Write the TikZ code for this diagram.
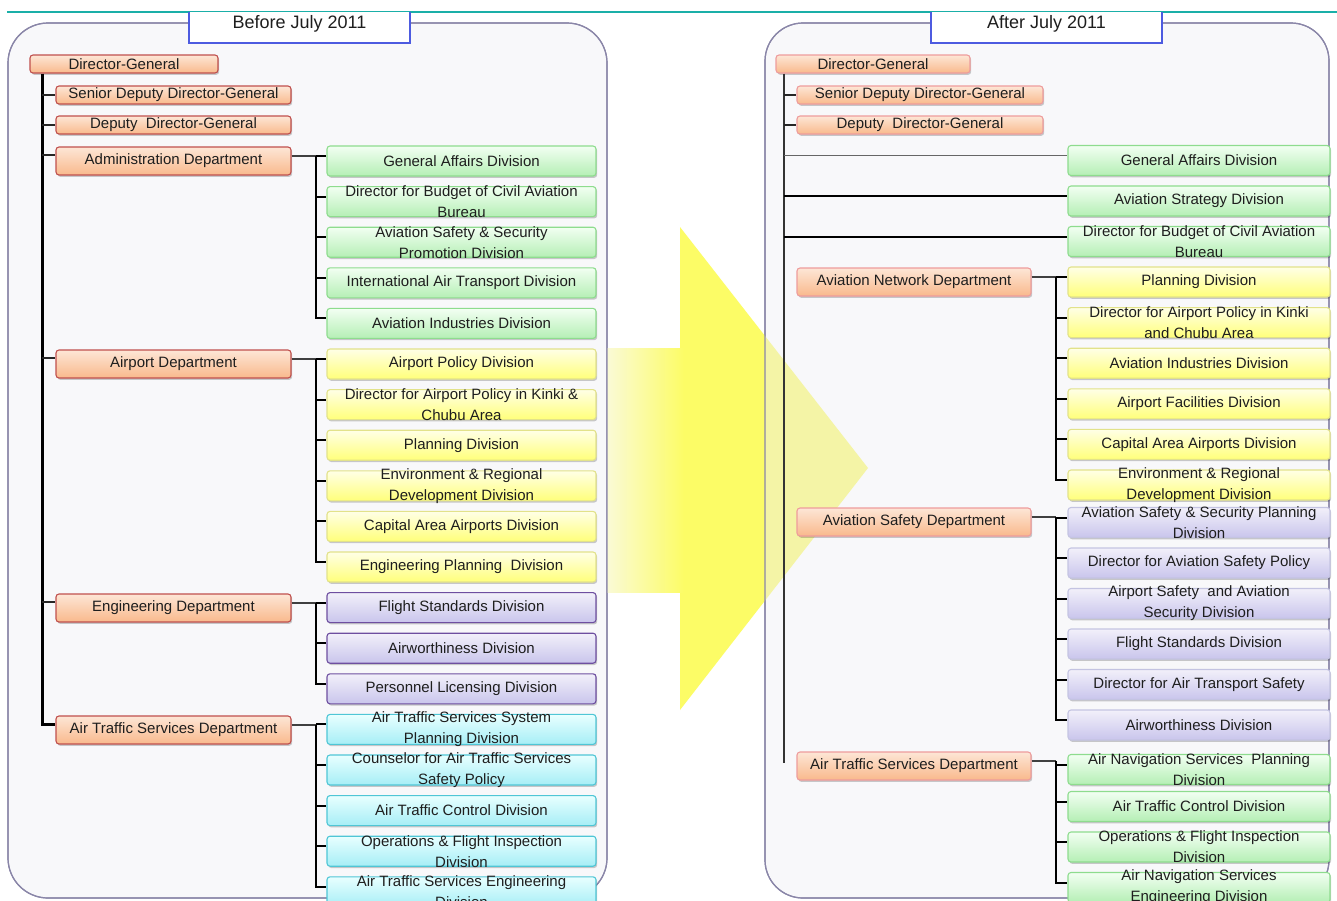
\documentclass[tikz,border=0pt]{standalone}
\usepackage{fontspec}
\setmainfont{Liberation Sans}
\usetikzlibrary{shadows}
\definecolor{teal1}{HTML}{1AAFA8}
\definecolor{tblue}{HTML}{4D5BE0}
\definecolor{panelbd}{HTML}{8A86A8}
\definecolor{panelbg}{HTML}{F8F8FA}
\definecolor{orTop}{HTML}{FDE6D6}
\definecolor{orBot}{HTML}{F9B98C}
\definecolor{orBdL}{HTML}{C0504D}
\definecolor{orBdR}{HTML}{EE9C9C}
\definecolor{gTop}{HTML}{F2FFF2}
\definecolor{gBot}{HTML}{B5EFB5}
\definecolor{gBd}{HTML}{8EDC8E}
\definecolor{yTop}{HTML}{FFFFE6}
\definecolor{yBot}{HTML}{FFFF7A}
\definecolor{yBd}{HTML}{E2E28A}
\definecolor{pTop}{HTML}{F2F0FA}
\definecolor{pBot}{HTML}{C9C5EC}
\definecolor{pBdL}{HTML}{6E4FA0}
\definecolor{pBdR}{HTML}{C4C4E2}
\definecolor{cTop}{HTML}{E8FFFF}
\definecolor{cBot}{HTML}{A6EEF6}
\definecolor{cBd}{HTML}{4FC6D6}
\definecolor{txtc}{HTML}{1E1E1E}
\definecolor{arY}{HTML}{FCFC66}
\definecolor{arYL}{HTML}{F4F4A6}
\definecolor{arYp}{HTML}{FAFAD6}
\newcommand\orgbox[5]{\node[#1] (#2) at (#3,#4) {}; \node[txt] (#2t) at (#2) {#5};}
\newcommand\branch[4]{%
  \draw[deptln] ([yshift=5pt]#1.east) -- ([yshift=5pt]#1.east -| #2);
  \draw[barln] ([yshift=5pt]#1.east -| #2) |- ([yshift=5pt]#4.west);
  \foreach \n in {#3} \draw[barln] ([yshift=5pt]\n.west -| #2) -- ([yshift=5pt]\n.west);}
\begin{document}
\begin{tikzpicture}[x=1pt,y=-1pt,
  bx/.style={rounded corners=3pt, line width=1.1pt, inner sep=0pt,
    drop shadow={shadow xshift=1.2pt, shadow yshift=-1.8pt, opacity=0.2, fill=black}},
  orL/.style={bx, draw=orBdL, top color=orTop, bottom color=orBot},
  orR/.style={bx, draw=orBdR, top color=orTop, bottom color=orBot},
  dgLs/.style={orL, minimum width=188pt, minimum height=18pt},
  smL/.style={orL, minimum width=235pt, minimum height=18pt},
  deptL/.style={orL, minimum width=235pt, minimum height=28pt},
  dgRs/.style={orR, minimum width=194pt, minimum height=18pt},
  smR/.style={orR, minimum width=246pt, minimum height=18pt},
  deptR/.style={orR, minimum width=234pt, minimum height=28pt},
  divL/.style={bx, minimum width=269pt, minimum height=30pt},
  divR/.style={bx, minimum width=262pt, minimum height=30pt},
  gL/.style={divL, draw=gBd, top color=gTop, bottom color=gBot},
  yL/.style={divL, draw=yBd, top color=yTop, bottom color=yBot},
  pL/.style={divL, draw=pBdL, top color=pTop, bottom color=pBot},
  cL/.style={divL, draw=cBd, top color=cTop, bottom color=cBot},
  gR/.style={divR, draw=gBd, top color=gTop, bottom color=gBot},
  yR/.style={divR, draw=yBd, top color=yTop, bottom color=yBot},
  pR/.style={divR, draw=pBdR, top color=pTop, bottom color=pBot},
  txt/.style={font=\fontsize{15}{21}\selectfont, align=center, inner sep=0pt, text=txtc},
  ttl/.style={font=\fontsize{18}{22}\selectfont, inner sep=0pt, text=txtc},
  trunkL/.style={line width=3pt, black},
  trunkR/.style={line width=2pt, black!80},
  tickln/.style={line width=1.2pt, black!85},
  deptln/.style={line width=1.2pt, black!75},
  barln/.style={line width=2pt, black},
  panel/.style={draw=panelbd, line width=1.2pt},
]
\useasboundingbox (0,0) rectangle (1337,900);
\clip (0,0) rectangle (1337,900);
\fill[white] (0,0) rectangle (1337,900);
% panels
\path[panel, fill=panelbg, rounded corners=40pt] (8,23) rectangle (607,898);
\path[panel, fill=panelbg, rounded corners=38pt] (765,23) rectangle (1329,898);
% big arrow
\begin{scope}
  \clip (607,0) rectangle (765,900);
  \fill[arY] (607,348) -- (680,348) -- (680,227) -- (868,468) -- (680,710) -- (680,592) -- (607,592) -- cycle;
  \shade[left color=arYp, right color=arY] (607,348) rectangle (684,592);
\end{scope}
\begin{scope}
  \clip (765,0) rectangle (900,900);
  \fill[arYL] (680,227) -- (868,468) -- (680,710) -- cycle;
\end{scope}
\draw[panel, rounded corners=40pt] (8,23) rectangle (607,898);
\draw[panel, rounded corners=38pt] (765,23) rectangle (1329,898);
% title bar
\draw[teal1, line width=1.2pt] (7,12) -- (1337,12);
\node[fill=white, minimum width=221pt, minimum height=31pt, inner sep=0pt] (tbL) at (299.5,27.5) {};
\draw[tblue, line width=2pt] (tbL.north west) |- (tbL.south east) -- (tbL.north east);
\node[ttl] (tbLt) at (299.5,24) {Before July 2011};
\node[fill=white, minimum width=231pt, minimum height=31pt, inner sep=0pt] (tbR) at (1046.5,27.5) {};
\draw[tblue, line width=2pt] (tbR.north west) |- (tbR.south east) -- (tbR.north east);
\node[ttl] (tbRt) at (1046.5,24) {After July 2011};

% ---------------- left panel ----------------
\orgbox{dgLs}{dgL}{124}{64}{Director-General}
\orgbox{smL}{sdgL}{173.5}{95}{Senior Deputy Director-General}
\orgbox{smL}{ddgL}{173.5}{125}{Deputy\ \ Director-General}
\orgbox{deptL}{admL}{173.5}{161}{Administration Department}
\orgbox{deptL}{aptL}{173.5}{364}{Airport Department}
\orgbox{deptL}{engL}{173.5}{608}{Engineering Department}
\orgbox{deptL}{atsL}{173.5}{730}{Air Traffic Services Department}

\orgbox{gL}{a1}{461.5}{161}{General Affairs Division}
\orgbox{gL}{a2}{461.5}{201.6}{Director for Budget of Civil Aviation\\Bureau}
\orgbox{gL}{a3}{461.5}{242.2}{Aviation Safety \& Security\\Promotion Division}
\orgbox{gL}{a4}{461.5}{282.8}{International Air Transport Division}
\orgbox{gL}{a5}{461.5}{323.4}{Aviation Industries Division}
\orgbox{yL}{b1}{461.5}{364}{Airport Policy Division}
\orgbox{yL}{b2}{461.5}{404.6}{Director for Airport Policy in Kinki \&\\Chubu Area}
\orgbox{yL}{b3}{461.5}{445.2}{Planning Division}
\orgbox{yL}{b4}{461.5}{485.8}{Environment \& Regional\\Development Division}
\orgbox{yL}{b5}{461.5}{526.4}{Capital Area Airports Division}
\orgbox{yL}{b6}{461.5}{567}{Engineering Planning\ \ Division}
\orgbox{pL}{e1}{461.5}{607.6}{Flight Standards Division}
\orgbox{pL}{e2}{461.5}{648.2}{Airworthiness Division}
\orgbox{pL}{e3}{461.5}{688.8}{Personnel Licensing Division}
\orgbox{cL}{t1}{461.5}{729.4}{Air Traffic Services System\\Planning Division}
\orgbox{cL}{t2}{461.5}{770}{Counselor for Air Traffic Services\\Safety Policy}
\orgbox{cL}{t3}{461.5}{810.6}{Air Traffic Control Division}
\orgbox{cL}{t4}{461.5}{851.2}{Operations \& Flight Inspection\\Division}
\orgbox{cL}{t5}{461.5}{891.8}{Air Traffic Services Engineering\\Division}

\coordinate (lt) at ([xshift=13pt]dgL.south west);
\coordinate (bxL) at (316,0);
\draw[trunkL] (lt) |- ([yshift=6pt]atsL.west);
\foreach \n in {sdgL,ddgL} \draw[tickln] (\n.west -| lt) -- (\n.west);
\foreach \n in {admL,aptL,engL} \draw[tickln] ([yshift=6pt]\n.west -| lt) -- ([yshift=6pt]\n.west);
\branch{admL}{bxL}{a1,a2,a3,a4}{a5}
\branch{aptL}{bxL}{b1,b2,b3,b4,b5}{b6}
\branch{engL}{bxL}{e1,e2}{e3}
\branch{atsL}{bxL}{t1,t2,t3,t4}{t5}

% ---------------- right panel ----------------
\orgbox{dgRs}{dgR}{873}{64}{Director-General}
\orgbox{smR}{sdgR}{920}{95}{Senior Deputy Director-General}
\orgbox{smR}{ddgR}{920}{125}{Deputy\ \ Director-General}
\orgbox{deptR}{anR}{914}{282}{Aviation Network Department}
\orgbox{deptR}{asR}{914}{522}{Aviation Safety Department}
\orgbox{deptR}{atsR}{914}{766}{Air Traffic Services Department}

\orgbox{gR}{r1}{1199}{160.5}{General Affairs Division}
\orgbox{gR}{r2}{1199}{201}{Aviation Strategy Division}
\orgbox{gR}{r3}{1199}{241.5}{Director for Budget of Civil Aviation\\Bureau}
\orgbox{yR}{n1}{1199}{282}{Planning Division}
\orgbox{yR}{n2}{1199}{322.6}{Director for Airport Policy in Kinki\\and Chubu Area}
\orgbox{yR}{n3}{1199}{363.2}{Aviation Industries Division}
\orgbox{yR}{n4}{1199}{403.8}{Airport Facilities Division}
\orgbox{yR}{n5}{1199}{444.4}{Capital Area Airports Division}
\orgbox{yR}{n6}{1199}{485}{Environment \& Regional\\Development Division}
\orgbox{pR}{s1}{1199}{522.5}{Aviation Safety \& Security Planning\\Division}
\orgbox{pR}{s2}{1199}{563}{Director for Aviation Safety Policy}
\orgbox{pR}{s3}{1199}{603.5}{Airport Safety\ \ and Aviation\\Security Division}
\orgbox{pR}{s4}{1199}{644}{Flight Standards Division}
\orgbox{pR}{s5}{1199}{684.5}{Director for Air Transport Safety}
\orgbox{pR}{s6}{1199}{725}{Airworthiness Division}
\orgbox{gR}{v1}{1199}{769.5}{Air Navigation Services\ \ Planning\\Division}
\orgbox{gR}{v2}{1199}{806.5}{Air Traffic Control Division}
\orgbox{gR}{v3}{1199}{847}{Operations \& Flight Inspection\\Division}
\orgbox{gR}{v4}{1199}{887.5}{Air Navigation Services\\Engineering Division}

\coordinate (rt) at ([xshift=9pt]dgR.south west);
\coordinate (bxR) at (1056,0);
\path ([yshift=3pt]atsR.west) coordinate (rtend);
\draw[trunkR] (rt) -- (rt |- rtend);
\foreach \n in {sdgR,ddgR} \draw[tickln] (\n.west -| rt) -- (\n.west);
\draw[line width=1.5pt, black!60] ([yshift=5pt]r1.west -| rt) -- ([yshift=5pt]r1.west);
\foreach \n in {r2,r3} \draw[barln] ([yshift=5pt]\n.west -| rt) -- ([yshift=5pt]\n.west);
\branch{anR}{bxR}{n1,n2,n3,n4,n5}{n6}
\branch{asR}{bxR}{s1,s2,s3,s4,s5}{s6}
\branch{atsR}{bxR}{v1,v2,v3}{v4}
\end{tikzpicture}
\end{document}
